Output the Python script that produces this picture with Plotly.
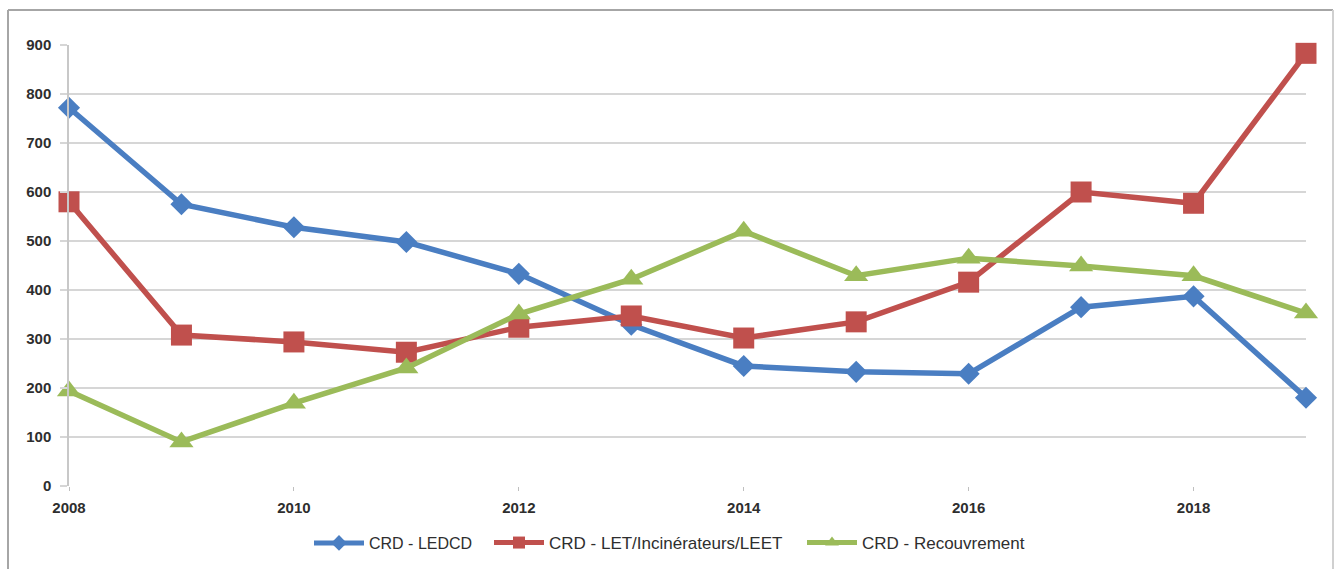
import plotly.graph_objects as go

years = [2008, 2009, 2010, 2011, 2012, 2013, 2014, 2015, 2016, 2017, 2018, 2019]
ledcd = [772, 575, 528, 498, 433, 329, 245, 233, 229, 365, 387, 180]
let_inc = [580, 308, 294, 273, 324, 347, 302, 335, 416, 600, 577, 883]
recouv = [194, 90, 169, 241, 351, 422, 520, 429, 465, 449, 429, 353]
names = ["CRD - LEDCD", "CRD - LET/Incinérateurs/LEET", "CRD - Recouvrement"]
x_ticks = [2008, 2010, 2012, 2014, 2016, 2018]
y_ticks = [0, 100, 200, 300, 400, 500, 600, 700, 800, 900]

W, H = 1335, 569
L, R, T, B = 69, 29, 45, 83
pw, ph = W - L - R, H - T - B

FONT = "Liberation Sans, Arial, sans-serif"
TXT = "#2E2E2E"


def px(xp):
    return (xp - L) / pw


def py(yp):
    return (H - B - yp) / ph


fig = go.Figure()
styles = [
    (ledcd, "#4A7EC2", "diamond", 17, "legend", 370, 16),
    (let_inc, "#C0504D", "square", 21, "legend2", 550, 17),
    (recouv, "#9BBB59", "triangle-up", 21, "legend3", 863, 17),
]
for (vals, col, sym, sz, lg, lx, fs), nm in zip(styles, names):
    fig.add_trace(go.Scatter(
        x=years, y=vals, name=nm, mode="lines+markers",
        line=dict(color=col, width=5.5),
        marker=dict(color=col, symbol=sym, size=sz),
        cliponaxis=False, legend=lg,
    ))

border = "#A6A6A6"
fig.add_shape(type="line", xref="paper", yref="paper", x0=px(8), x1=px(1333), y0=py(10), y1=py(10),
              line=dict(color=border, width=2), layer="below")
fig.add_shape(type="line", xref="paper", yref="paper", x0=px(8), x1=px(8), y0=py(10), y1=py(575),
              line=dict(color=border, width=2), layer="below")
fig.add_shape(type="line", xref="paper", yref="paper", x0=px(1333), x1=px(1333), y0=py(10), y1=py(575),
              line=dict(color="#D0D0D0", width=2), layer="below")

legs = {}
for (_, _, _, _, lg, lx, fs) in styles:
    legs[lg] = dict(orientation="h", yref="container", y=1 - 543 / H, yanchor="middle",
                    xanchor="left", x=px(lx - 61), itemwidth=50, itemsizing="constant",
                    font=dict(family=FONT, size=fs, color=TXT), bgcolor="rgba(0,0,0,0)",
                    borderwidth=0)

fig.update_layout(
    width=W, height=H,
    margin=dict(l=L, r=R, t=T, b=B, autoexpand=False),
    paper_bgcolor="white", plot_bgcolor="white",
    font=dict(family=FONT, size=15, color=TXT),
    showlegend=True,
    **legs,
    xaxis=dict(range=[2008, 2019], tickvals=x_ticks, ticktext=[f"<b>{t}</b>" for t in x_ticks],
               showgrid=False, zeroline=False, showline=False,
               ticks="outside", ticklen=4, tickcolor="#BFBFBF",
               ticklabelstandoff=4,
               tickfont=dict(family=FONT, size=15, color=TXT)),
    yaxis=dict(range=[0, 900], tickvals=y_ticks, ticktext=[f"<b>{t}</b>" for t in y_ticks],
               showgrid=True, gridcolor="#D6D6D6", gridwidth=1.5, zeroline=False,
               showline=True, linecolor="#C8C8C8", linewidth=1.5,
               ticks="outside", ticklen=7, tickcolor="#D6D6D6", tickwidth=1.5,
               ticklabelstandoff=6,
               tickfont=dict(family=FONT, size=15, color=TXT)),
)

fig.write_html("out.html", config={"displayModeBar": False},
               post_script="document.body.style.margin='0';document.body.style.overflow='hidden';")
